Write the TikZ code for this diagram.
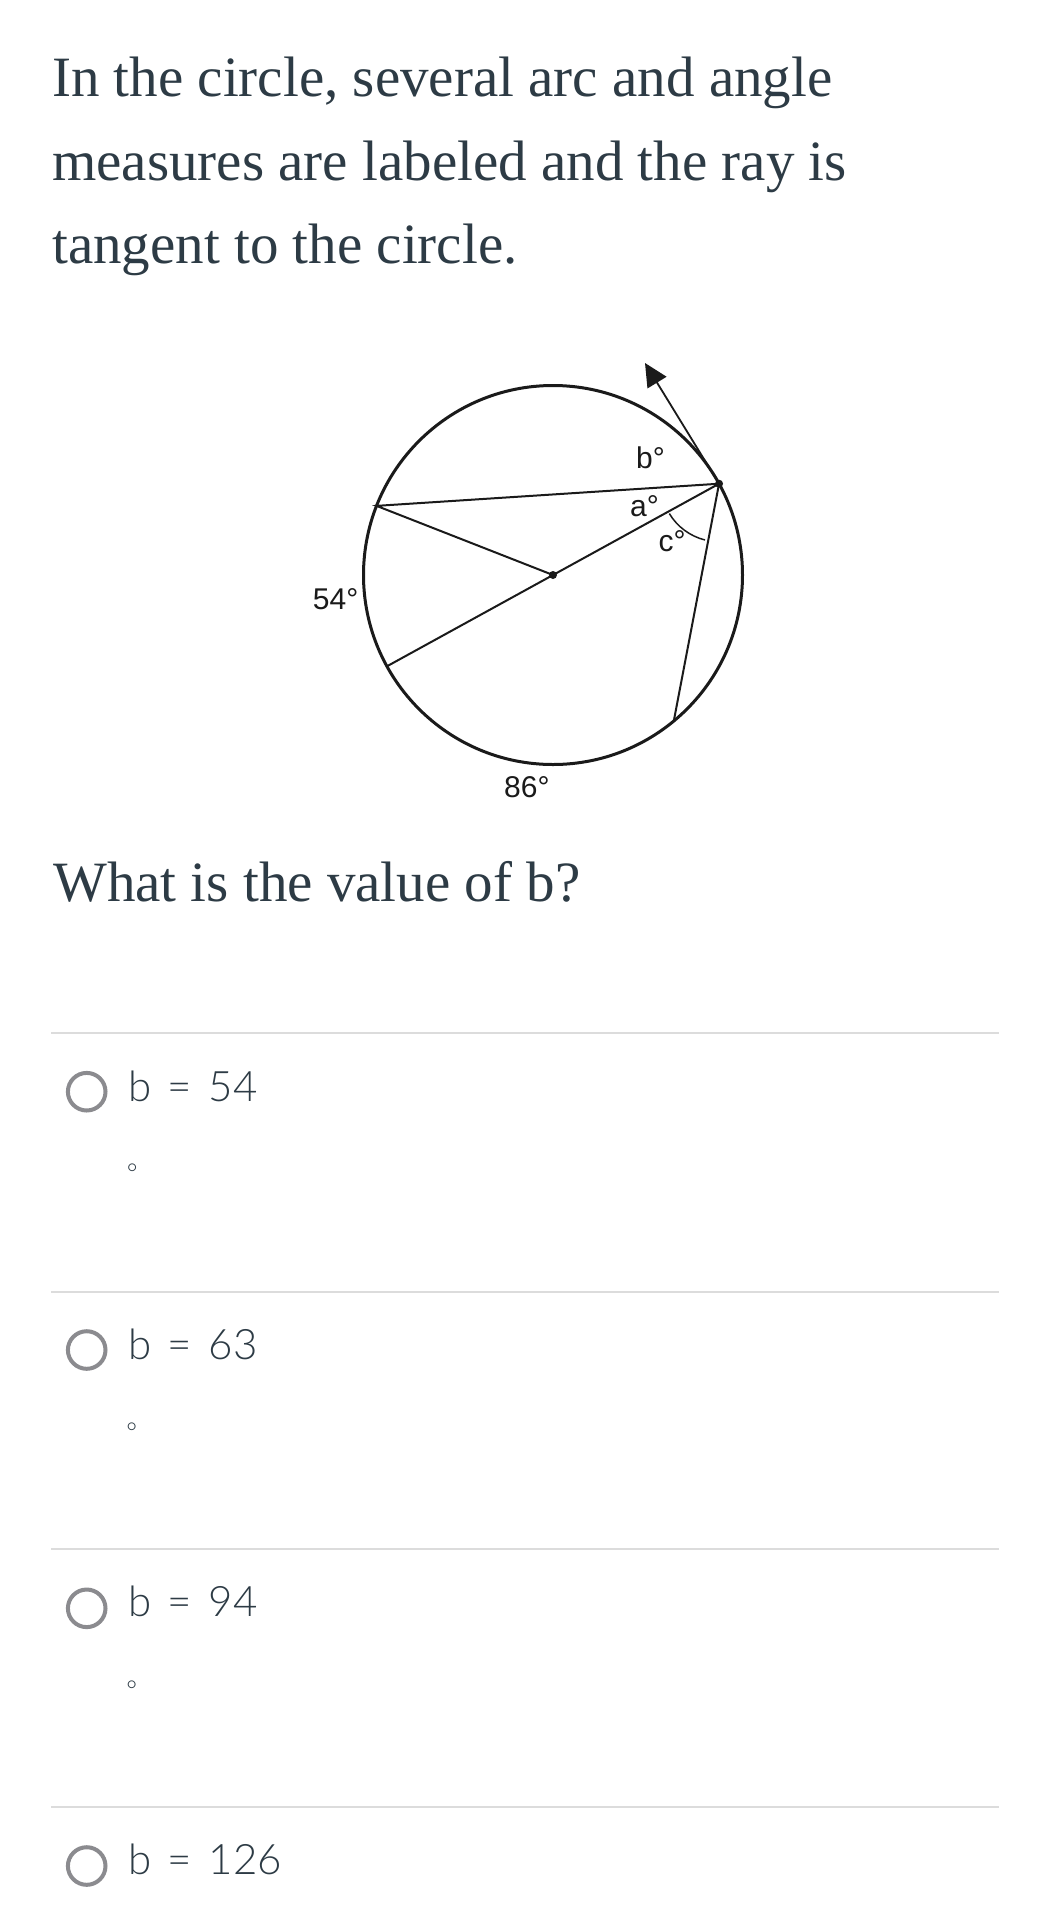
\documentclass[tikz,border=0pt]{standalone}
\usepackage{fontspec}
\setmainfont{Liberation Serif}
\newfontfamily\labfont{Liberation Sans}
\IfFontExistsTF{Lato Light}{\newfontfamily\optfont[WordSpace=1.45]{Lato Light}}{\newfontfamily\optfont[WordSpace=1.45]{Lato}}
\usetikzlibrary{arrows.meta,calc}
\definecolor{txt}{HTML}{2D3B45}
\definecolor{sepgray}{HTML}{DCDCDC}
\definecolor{radiogray}{HTML}{8B8B8F}
\definecolor{ink}{HTML}{1A1A1A}
\tikzset{
  title/.style={anchor=base west, inner sep=0pt, text=txt, font=\fontsize{57}{68}\selectfont},
  geo/.style={draw=ink, line width=2pt},
  rim/.style={draw=ink, line width=3pt},
  lbl/.style={anchor=base west, inner sep=0pt, text=ink, font=\labfont\fontsize{30}{36}\selectfont},
  dotnode/.style={circle, fill=ink, inner sep=0pt, minimum size=8pt},
  sepline/.style={draw=sepgray, line width=2pt},
  radio/.style={circle, draw=radiogray, line width=4pt, minimum size=37.6pt, inner sep=0pt},
  opttext/.style={anchor=base west, inner sep=0pt, text=txt, font=\optfont\fontsize{42}{50}\selectfont},
  degnode/.style={anchor=center, inner sep=0pt, text=txt, font=\optfont\fontsize{26}{30}\selectfont},
}
\begin{document}
\begin{tikzpicture}[x=1pt,y=-1pt]
\fill[white] (0,0) rectangle (1040,1912);
\useasboundingbox (0,0) rectangle (1040,1912);

% question text
\node[title] (q1) at (52,96.7) {In the circle, several arc and angle};
\node[title] (q2) at (52,180) {measures are labeled and the ray is};
\node[title] (q3) at (52,263.3) {tangent to the circle.};

% diagram
\coordinate (C) at (553,575);
\coordinate (T) at ($(C)+(-28.8:189.5)$);
\coordinate (L) at ($(C)+(-158.6:189.5)$);
\coordinate (D) at ($(C)+(-208.8:189.5)$);
\coordinate (E) at ($(C)+(-309.6:189.5)$);
\coordinate (tip) at (645,363);

\draw[rim] (C) circle[radius=189.5];
\draw[geo] (T) -- (L) -- (C);
\draw[geo] (T) -- (D);
\draw[geo] (T) -- (E);
\draw[draw=ink, line width=1.8pt, -{Triangle[length=23pt,width=22pt]}] (T) -- (tip);
\draw[draw=ink, line width=1.5pt] ($(T)+(-211:58)$) arc[start angle=-211, end angle=-256, radius=58];
\node[dotnode] (cdot) at (C) {};
\node[dotnode] (tdot) at (T) {};

\node[lbl] (lb) at (636,468.3) {b°};
\node[lbl] (la) at (630,516.7) {a°};
\node[lbl] (lc) at (658.3,551.7) {c°};
\node[lbl] (l54) at (312.7,609.3) {54°};
\node[lbl] (l86) at (504,797.3) {86°};

% question
\node[title] (q4) at (53,901) {What is the value of b?};

% separators
\draw[sepline] (51,1033) -- (999,1033);
\draw[sepline] (51,1291.5) -- (999,1291.5);
\draw[sepline] (51,1549.3) -- (999,1549.3);
\draw[sepline] (51,1807.3) -- (999,1807.3);

% options
\node[radio] (r1) at (86.7,1091.7) {};
\node[opttext] (o1) at (128,1101.7) {b = 54};
\node[degnode] (d1) at (132.3,1173.3) {°};

\node[radio] (r2) at (86.7,1350) {};
\node[opttext] (o2) at (128,1359.3) {b = 63};
\node[degnode] (d2) at (131.7,1431.7) {°};

\node[radio] (r3) at (86.7,1608.3) {};
\node[opttext] (o3) at (128,1616.7) {b = 94};
\node[degnode] (d3) at (131.7,1690) {°};

\node[radio] (r4) at (86.7,1866) {};
\node[opttext] (o4) at (128,1874.3) {b = 126};
\end{tikzpicture}
\end{document}
